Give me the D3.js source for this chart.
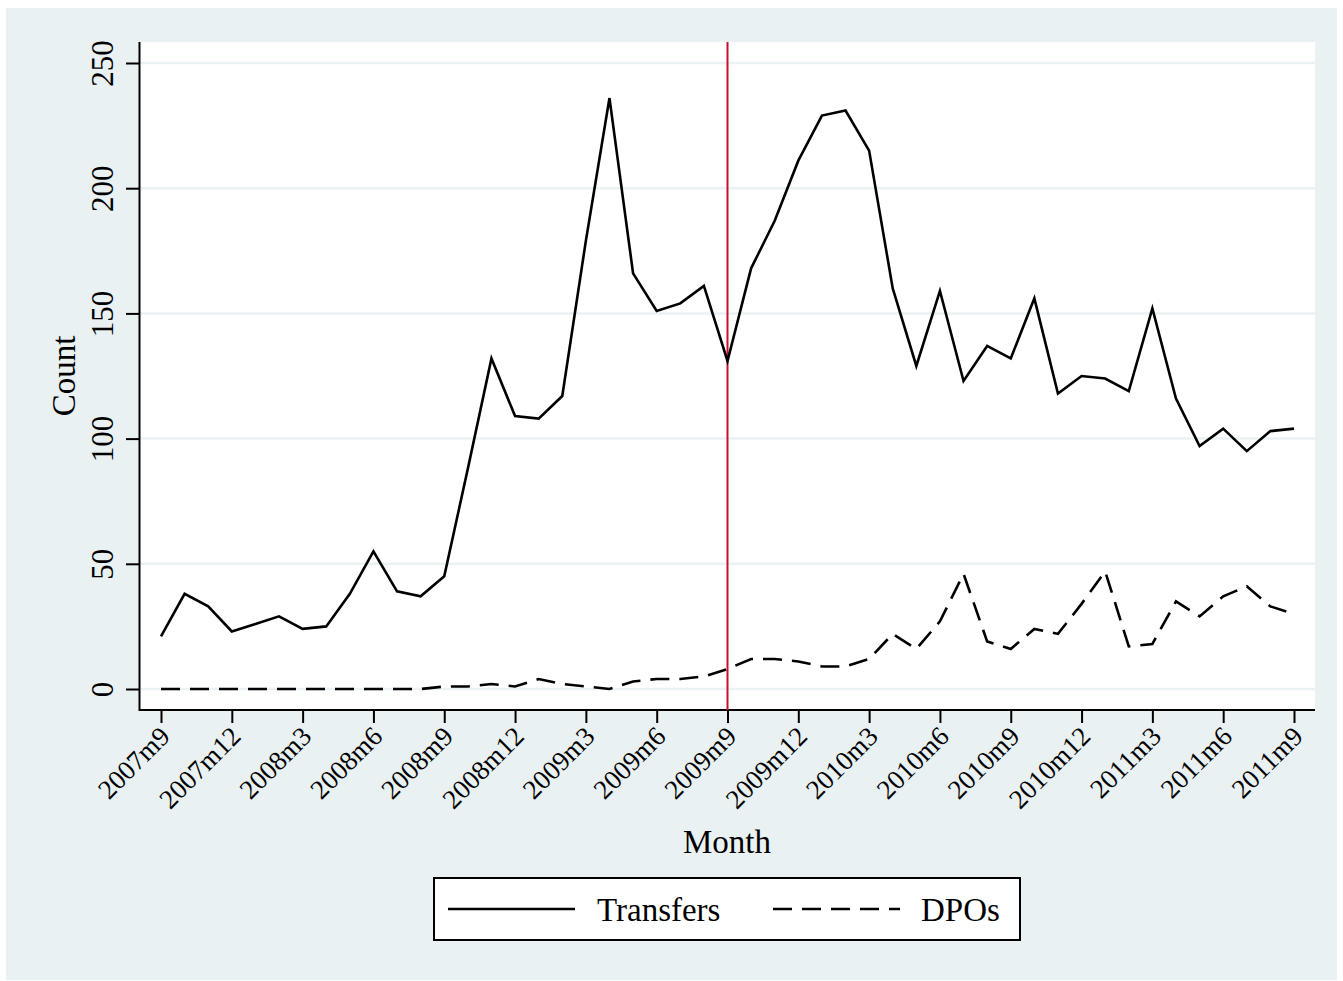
<!DOCTYPE html>
<html>
<head>
<meta charset="utf-8">
<script src="https://cdn.jsdelivr.net/npm/d3@7"></script>
<style>
  body { margin: 0; background: #fff; }
  svg { display: block; font-family: "Liberation Serif", "Times New Roman", serif; }
</style>
</head>
<body>
<div id="chart"></div>
<script>
// monthly counts, 2007m9 .. 2011m9 (49 months)
const transfers = [21, 38, 33, 23, 26, 29, 24, 25, 38, 55, 39, 37,
                   45, 88, 132, 109, 108, 117, 179, 236, 166, 151, 154, 161,
                   131, 168, 187, 211, 229, 231, 215, 160, 129, 159, 123, 137,
                   132, 156, 118, 125, 124, 119, 152, 116, 97, 104, 95, 103, 104];
const dpos = [0, 0, 0, 0, 0, 0, 0, 0, 0, 0, 0, 0,
              1, 1, 2, 1, 4, 2, 1, 0, 3, 4, 4, 5,
              8, 12, 12, 11, 9, 9, 12, 22, 16, 27, 46, 19,
              16, 24, 22, 34, 47, 17, 18, 35, 29, 37, 41, 33, 30];
const tickMonths = [0, 3, 6, 9, 12, 15, 18, 21, 24, 27, 30, 33, 36, 39, 42, 45, 48];
const tickLabels = ["2007m9", "2007m12", "2008m3", "2008m6", "2008m9", "2008m12",
                    "2009m3", "2009m6", "2009m9", "2009m12", "2010m3", "2010m6",
                    "2010m9", "2010m12", "2011m3", "2011m6", "2011m9"];
const yTicks = [0, 50, 100, 150, 200, 250];
const eventMonth = 24; // 2009m9
const seriesNames = ["Transfers", "DPOs"];

const W = 1343, H = 981;
const plot = { left: 140, right: 1315, top: 42, bottom: 710 };
const serif = '"Liberation Serif", "Times New Roman", serif';

const svg = d3.select("#chart").append("svg")
    .attr("width", W)
    .attr("height", H);

// outer background
svg.append("rect")
    .attr("x", 6).attr("y", 8)
    .attr("width", 1331).attr("height", 972)
    .attr("fill", "#e9f1f3");

// plot region
svg.append("rect")
    .attr("x", plot.left).attr("y", plot.top)
    .attr("width", plot.right - plot.left).attr("height", plot.bottom - plot.top)
    .attr("fill", "#fff");

const x = d3.scaleLinear().domain([0, 48]).range([161, 1294]);
const y = d3.scaleLinear().domain([0, 250]).range([689, 63]);

// gridlines
svg.append("g").selectAll("line")
    .data(yTicks)
    .enter()
    .append("line")
    .attr("x1", plot.left).attr("x2", plot.right)
    .attr("y1", d => y(d)).attr("y2", d => y(d))
    .style("stroke", "#eaf2f3")
    .style("stroke-width", 2.5);

// y axis
const yAxis = svg.append("g")
    .attr("transform", `translate(${plot.left},0)`)
    .call(d3.axisLeft(y).tickValues(yTicks).tickSize(14).tickSizeOuter(0))
    .attr("font-family", serif);
yAxis.select(".domain").remove();
yAxis.selectAll(".tick line").style("stroke", "#000").style("stroke-width", 2);
yAxis.selectAll(".tick text")
    .attr("x", null).attr("dy", null)
    .attr("transform", "translate(-27,0) rotate(-90)")
    .style("text-anchor", "middle")
    .style("font-size", "31px")
    .style("fill", "#000");

// x axis
const xAxis = svg.append("g")
    .attr("transform", `translate(0,${plot.bottom})`)
    .call(d3.axisBottom(x).tickValues(tickMonths).tickSize(13).tickSizeOuter(0)
        .tickFormat((d, i) => tickLabels[i]))
    .attr("font-family", serif);
xAxis.select(".domain").remove();
xAxis.selectAll(".tick line").style("stroke", "#000").style("stroke-width", 2);
xAxis.selectAll(".tick text")
    .attr("y", null).attr("dy", null)
    .attr("transform", "translate(10,28) rotate(-45)")
    .style("text-anchor", "end")
    .style("font-size", "27px")
    .style("fill", "#000");

// axis lines
svg.append("line")
    .attr("x1", plot.left - 0.5).attr("x2", plot.left - 0.5)
    .attr("y1", plot.top).attr("y2", plot.bottom + 1)
    .style("stroke", "#000").style("stroke-width", 2);
svg.append("line")
    .attr("x1", plot.left - 1).attr("x2", plot.right)
    .attr("y1", plot.bottom).attr("y2", plot.bottom)
    .style("stroke", "#000").style("stroke-width", 2);

// event line
svg.append("line")
    .attr("x1", x(eventMonth)).attr("x2", x(eventMonth))
    .attr("y1", plot.top).attr("y2", plot.bottom)
    .style("stroke", "#c8102e")
    .style("stroke-width", 2);

const line = d3.line()
    .x((d, i) => x(i))
    .y(d => y(d));

svg.append("path")
    .datum(transfers)
    .attr("d", line)
    .style("fill", "none")
    .style("stroke", "#000")
    .style("stroke-width", 2.6)
    .style("stroke-linejoin", "miter");

svg.append("path")
    .datum(dpos)
    .attr("d", line)
    .style("fill", "none")
    .style("stroke", "#000")
    .style("stroke-width", 2.6)
    .style("stroke-dasharray", "19,10");

// axis titles
svg.append("text")
    .attr("transform", "translate(75,376) rotate(-90)")
    .style("text-anchor", "middle")
    .style("font-size", "33px")
    .text("Count");

svg.append("text")
    .attr("x", 727).attr("y", 853)
    .style("text-anchor", "middle")
    .style("font-size", "33px")
    .text("Month");

// legend
const legend = svg.append("g");
legend.append("rect")
    .attr("x", 434).attr("y", 878)
    .attr("width", 586).attr("height", 62)
    .attr("fill", "#fff")
    .style("stroke", "#000")
    .style("stroke-width", 2);

const legendItems = [
    { name: seriesNames[0], x0: 448, x1: 575, tx: 597, dash: null },
    { name: seriesNames[1], x0: 773, x1: 900, tx: 921, dash: "19,10" }
];
legendItems.forEach(it => {
    legend.append("line")
        .attr("x1", it.x0).attr("x2", it.x1)
        .attr("y1", 909).attr("y2", 909)
        .style("stroke", "#000")
        .style("stroke-width", 2.6)
        .style("stroke-dasharray", it.dash);
    legend.append("text")
        .attr("x", it.tx).attr("y", 921)
        .style("font-size", "33px")
        .text(it.name);
});
</script>
</body>
</html>
